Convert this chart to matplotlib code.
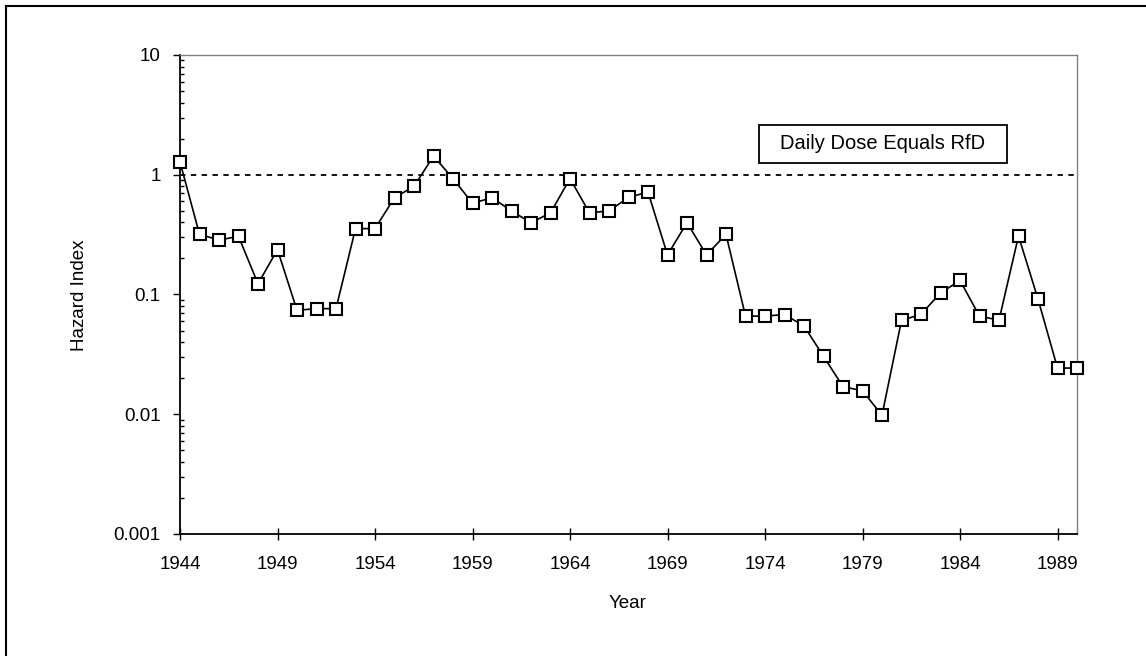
import matplotlib
matplotlib.use("Agg")
import matplotlib.pyplot as plt
from matplotlib.lines import Line2D
from matplotlib.patches import Rectangle
from matplotlib.ticker import FixedLocator, FixedFormatter, LogLocator, NullFormatter

plt.rcParams['font.family'] = ['Liberation Sans', 'DejaVu Sans']

# Annual hazard index, 1944-1990
years = list(range(1944, 1991))
hazard_index = [
    1.28, 0.318, 0.285, 0.306, 0.123, 0.237, 0.0738, 0.0762, 0.0762, 0.355,
    0.355, 0.644, 0.80, 1.43, 0.93, 0.577, 0.644, 0.498, 0.398, 0.48,
    0.93, 0.48, 0.50, 0.646, 0.718, 0.214, 0.398, 0.214, 0.318, 0.066,
    0.066, 0.068, 0.0546, 0.0305, 0.0170, 0.0157, 0.0098, 0.0608, 0.0683, 0.103,
    0.131, 0.066, 0.061, 0.308, 0.0916, 0.0243, 0.0243,
]
rfd_level = 1.0
rfd_label = "Daily Dose Equals RfD"

year_ticks = list(range(1944, 1990, 5))
y_ticks = [0.001, 0.01, 0.1, 1, 10]
y_tick_labels = ["0.001", "0.01", "0.1", "1", "10"]

W, H = 1146, 656
fig = plt.figure(figsize=(W / 100, H / 100), dpi=100)
ax = fig.add_axes([180 / W, 1 - 534 / H, (1077 - 180) / W, (534 - 55) / H])

ax.set_yscale('log')
ax.set_xlim(1944, 1990)
ax.set_ylim(0.001, 10)

# reference dose line
ax.axhline(rfd_level, color='black', lw=1.3, linestyle=(0, (3, 3)), zorder=2)

# series
ax.plot(years, hazard_index, color='black', lw=1.2, marker='s', ms=9,
        mfc='white', mec='black', mew=1.5, clip_on=False, zorder=3)

# ticks
ax.xaxis.set_major_locator(FixedLocator(year_ticks))
ax.xaxis.set_major_formatter(FixedFormatter([str(y) for y in year_ticks]))
ax.yaxis.set_major_locator(FixedLocator(y_ticks))
ax.yaxis.set_major_formatter(FixedFormatter(y_tick_labels))
ax.yaxis.set_minor_locator(LogLocator(base=10, subs=range(2, 10)))
ax.yaxis.set_minor_formatter(NullFormatter())

ax.tick_params(axis='x', which='major', direction='inout', length=8, width=1,
               pad=12, labelsize=13.5, colors='black')
ax.tick_params(axis='y', which='major', direction='out', length=5, width=1,
               pad=9, labelsize=13.5)
ax.tick_params(axis='y', which='minor', direction='in', length=3, width=1)

for side in ('left', 'bottom'):
    ax.spines[side].set_color('black')
    ax.spines[side].set_linewidth(1.3)
for side in ('top', 'right'):
    ax.spines[side].set_color('#808080')
    ax.spines[side].set_linewidth(1.0)

# legend-style box for the dashed line
x0, x1 = (759 - 180) / 897, (1007 - 180) / 897
y0, y1 = (534 - 163) / 479, (534 - 125) / 479
ax.add_patch(Rectangle((x0, y0), x1 - x0, y1 - y0, transform=ax.transAxes,
                       facecolor='white', edgecolor='black', lw=1.3, zorder=4))
ax.text((780 - 180) / 897, (534 - 144) / 479, rfd_label, transform=ax.transAxes,
        ha='left', va='center', fontsize=14.5, zorder=5)

# axis titles
fig.text(79 / W, 1 - 295 / H, "Hazard Index", rotation=90, ha='center',
         va='center', fontsize=13.5)
fig.text(628 / W, 1 - 603 / H, "Year", ha='center', va='center', fontsize=13.5)

# outer frame (top and left edges)
fig.add_artist(Line2D([6 / W, 6 / W], [0, 1 - 6 / H], color='black', lw=1.5,
                      transform=fig.transFigure))
fig.add_artist(Line2D([6 / W, 1], [1 - 6 / H, 1 - 6 / H], color='black', lw=1.5,
                      transform=fig.transFigure))

fig.savefig("out.png", dpi=100, facecolor='white')
